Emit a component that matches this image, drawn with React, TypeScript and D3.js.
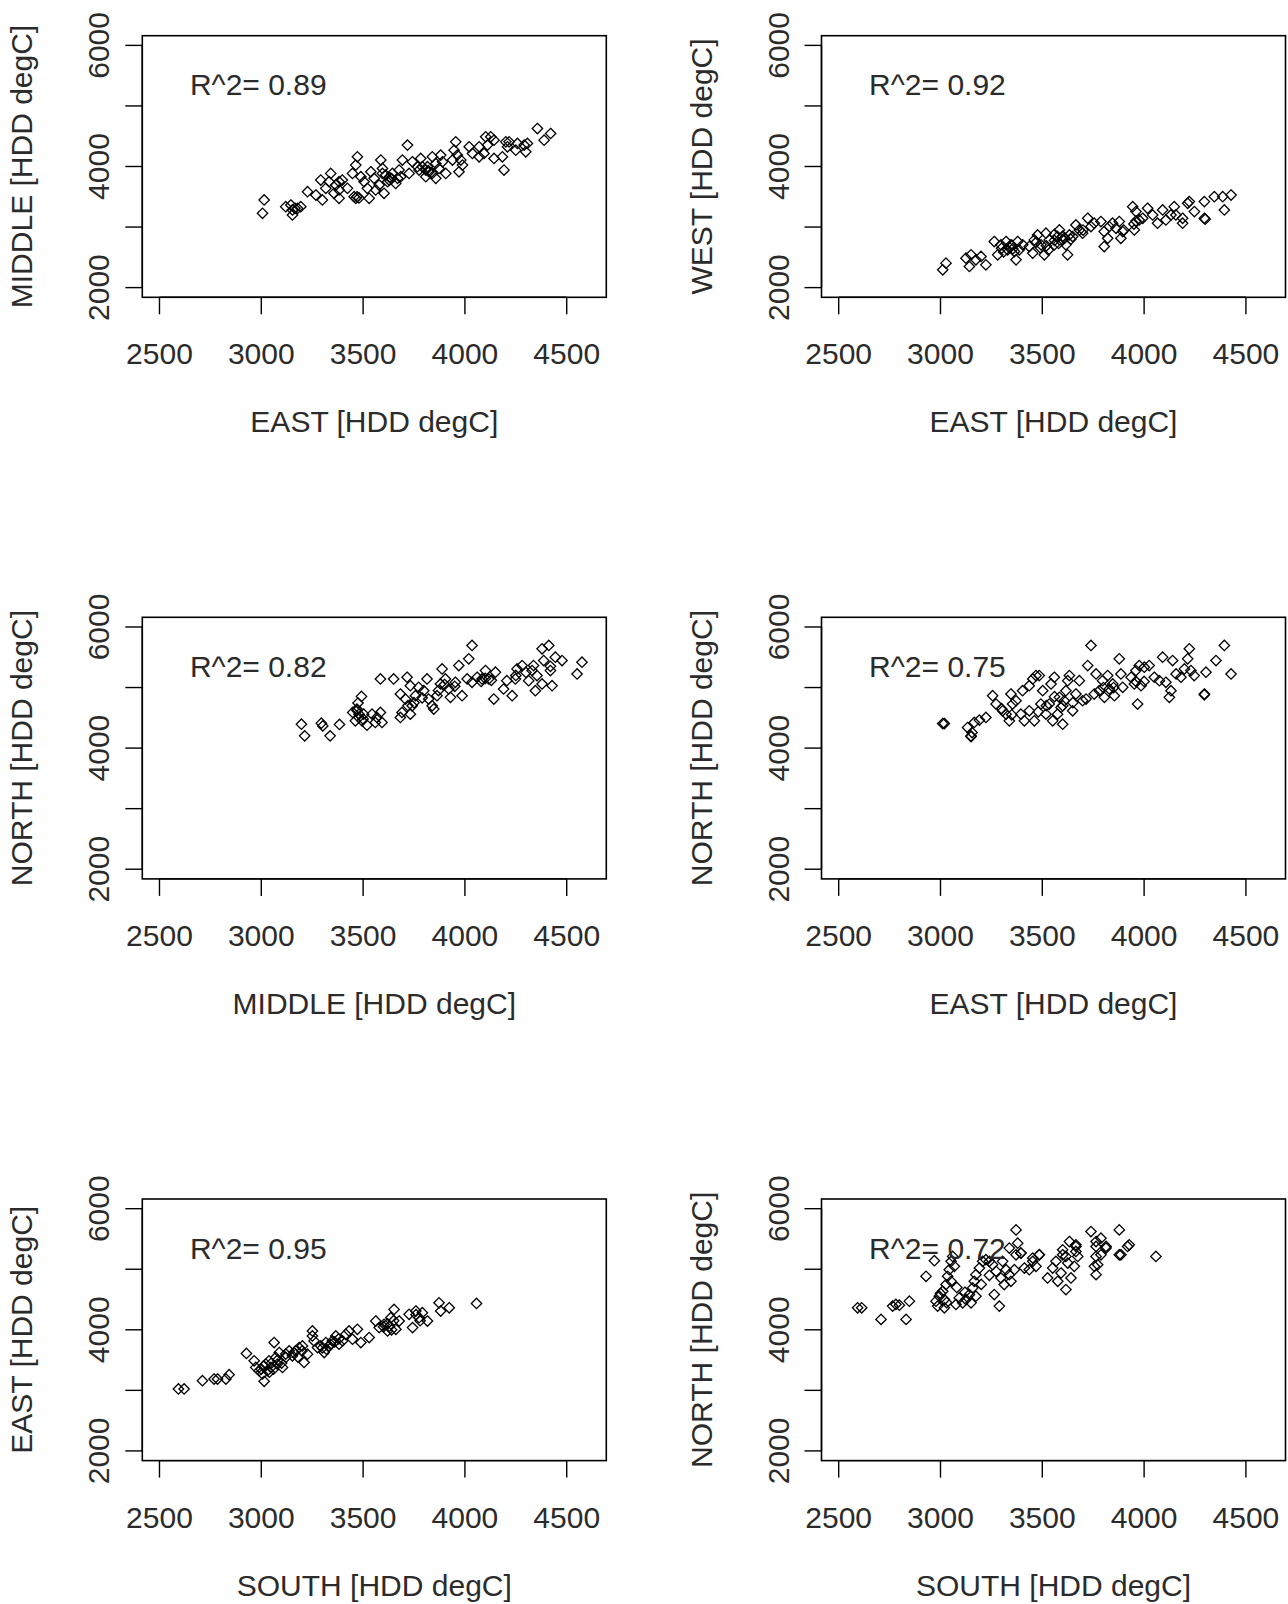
import React from 'react';
import * as d3 from 'd3';

// ---------- data ----------
const panel1East = [3014,3006,3120,3145,3153,3178,3153,3194,3165,3227,3268,3292,3341,3333,3317,3366,3357,3382,3398,3423,3382,3456,3464,3480,3470,3472,3464,3448,3489,3505,3521,3530,3562,3587,3595,3611,3628,3603,3644,3669,3693,3677,3660,3718,3742,3767,3791,3808,3824,3840,3857,3873,3881,3890,3840,3783,3955,3947,3963,3980,3971,3988,4021,4037,4070,4094,4102,4127,4143,4184,4192,4143,4201,4217,4250,4291,4307,4299,4356,4421,4389,3595,3620,3726,3808,3857,3939,3300,3382,3538,3554,3579,3685,3906,3775,3816,4070,4111,4209,4258,3630,3640,3820];
const panel1Middle = [3447,3227,3337,3364,3282,3309,3200,3337,3310,3584,3529,3776,3886,3749,3639,3694,3557,3474,3776,3639,3612,3502,3474,3480,3500,4160,4023,3886,3831,3749,3639,3474,3612,4106,3968,3859,3776,3557,3886,3804,4106,3941,3721,4353,4078,3996,3996,3941,3913,3886,3804,3968,4188,4078,4160,4133,4407,4270,4188,4106,3913,4023,4325,4215,4325,4215,4490,4490,4133,4160,3941,4435,4407,4407,4270,4353,4380,4243,4627,4545,4435,3886,3749,3886,3831,4051,4106,3447,3749,3913,3804,3694,3831,3886,3941,3996,4160,4353,4325,4380,3820,3800,3930];

const panel2East = [3011,3027,3125,3150,3142,3174,3223,3199,3264,3281,3297,3322,3330,3346,3363,3379,3371,3404,3387,3436,3453,3461,3477,3494,3510,3518,3534,3559,3575,3584,3600,3616,3624,3633,3649,3665,3682,3698,3723,3739,3755,3788,3804,3804,3821,3829,3845,3862,3878,3886,3895,3944,3960,3952,3976,3993,4017,4042,4066,4091,4107,4132,4148,4156,4189,4189,4214,4222,4247,4296,4296,4345,4386,4427,4394,3340,3355,3470,3490,3520,3560,3580,3600,3610,3640,3350,3300,3310,3560,3700,3950,3960,4300,3900,3530];
const panel2West = [2294,2404,2486,2541,2349,2459,2376,2514,2761,2541,2706,2761,2624,2706,2596,2761,2459,2706,2624,2678,2569,2788,2870,2706,2541,2898,2788,2706,2843,2953,2788,2706,2541,2870,2843,3035,2953,2898,3145,3008,3063,3090,2925,2678,2815,3008,3063,2980,3090,2815,2925,3337,3255,2953,3117,3145,3310,3200,3063,3282,3117,3200,3337,3200,3145,3063,3392,3420,3255,3420,3145,3502,3502,3529,3282,2660,2640,2750,2660,2690,2780,2730,2850,2820,2800,2700,2650,2590,2880,2950,3050,3100,3130,2950,2620];

const panel3Middle = [3197,3213,3295,3302,3338,3384,3449,3470,3492,3475,3479,3495,3519,3544,3568,3585,3593,3560,3462,3503,3585,3650,3716,3732,3683,3683,3691,3708,3741,3732,3757,3773,3798,3814,3822,3839,3847,3863,3880,3888,3904,3921,3929,3953,3970,3986,4019,4035,4011,4035,4060,4084,4101,4117,4142,4150,4190,4206,4232,4248,4256,4281,4313,4337,4346,4354,4379,4387,4379,4412,4420,4428,4444,4477,4551,4575,3480,3500,3470,3720,3750,3790,3870,3900,3950,4080,4100,4130,4250,4300,4420,4330];
const panel3North = [4395,4202,4412,4367,4202,4390,4589,4644,4854,4744,4506,4450,4379,4561,4506,4589,4423,4423,4450,4561,5142,5142,5170,5031,4893,4506,4589,4810,4699,4561,4865,5004,4948,5142,4810,4699,4644,4865,5059,5308,5142,4976,4838,5087,5363,4865,5474,5695,5142,5087,5170,5142,5280,5142,4810,5253,4976,5114,4865,5142,5308,5363,5114,5363,4948,5197,5640,5446,5059,5695,5280,5031,5502,5446,5225,5419,4560,4480,4620,4700,4750,4830,4950,5050,5020,5100,5150,5120,5200,5250,5350,5280];

const panel4East = [3019,3011,3150,3155,3133,3166,3191,3223,3256,3273,3305,3322,3346,3354,3338,3371,3395,3403,3412,3436,3436,3453,3461,3469,3485,3493,3502,3518,3534,3543,3551,3559,3575,3584,3592,3600,3608,3616,3625,3633,3649,3665,3682,3698,3715,3723,3739,3755,3764,3780,3796,3805,3821,3829,3846,3854,3878,3886,3895,3936,3952,3960,3968,3976,3985,4001,4025,4050,4075,4091,4107,4124,4132,4140,4157,4181,4198,4214,4222,4230,4246,4296,4304,4353,4394,4427,3300,3350,3480,3520,3560,3600,3650,3800,3850,3960,4000,4296,3150];
const panel4North = [4406,4406,4201,4257,4340,4423,4462,4506,4865,4727,4616,4561,4893,4727,4450,4782,4561,4948,4450,5031,4616,5142,4450,5197,5197,4727,4948,4561,4727,5059,4450,5170,4561,4838,4672,4395,4782,4948,5114,5197,4616,4893,5114,4782,4810,5363,5695,4893,5225,4948,5114,4838,5197,4976,5059,4865,5474,5225,5004,5170,5059,5280,4727,5363,5031,5336,5363,5170,5114,5502,5087,4838,4948,5446,5225,5170,5308,5474,5640,5280,5197,4893,5253,5446,5695,5225,4650,4550,4600,4700,4850,4700,4750,5000,5000,5100,5100,4880,4190];

const panel5South = [2593,2621,2711,2768,2785,2826,2842,2927,2965,2973,2989,3006,3014,3022,3030,3038,3047,3063,3071,3079,3088,3104,3120,3137,3153,3169,3186,3202,3210,3227,3251,3251,3259,3276,3292,3309,3317,3333,3349,3366,3382,3399,3415,3431,3448,3472,3489,3530,3562,3579,3603,3620,3636,3652,3661,3677,3726,3743,3759,3775,3791,3816,3873,3881,3923,4057,3000,3010,3040,3050,3060,3080,3100,3120,3160,3180,3200,3300,3320,3340,3360,3380,3600,3620,3640,3650,3630,3760,3780];
const panel5East = [3023,3023,3160,3187,3187,3187,3258,3609,3488,3379,3324,3270,3149,3434,3324,3488,3379,3789,3543,3434,3625,3379,3543,3652,3570,3652,3707,3734,3461,3598,3981,3899,3817,3707,3734,3625,3789,3734,3817,3899,3762,3817,3926,3981,3844,4008,3789,3872,4145,4036,4090,3981,4200,4337,4008,4145,4255,4036,4310,4200,4282,4145,4446,4310,4364,4435,3350,3400,3300,3450,3350,3500,3450,3600,3620,3550,3650,3700,3680,3760,3800,3850,4050,4100,4000,4150,4060,4250,4150];

const panel6South = [2593,2613,2708,2765,2781,2798,2847,2831,2929,2970,2978,2994,2986,3011,3019,3027,3035,3043,3052,3060,3068,3052,3076,3019,3092,3109,3125,3142,3150,3158,3166,3174,3174,3191,3207,3223,3240,3256,3264,3273,3289,3297,3305,3313,3322,3338,3346,3363,3371,3395,3412,3436,3453,3469,3485,3526,3551,3567,3576,3592,3600,3616,3625,3641,3657,3665,3674,3764,3764,3772,3788,3813,3878,3919,4058,3371,3379,3338,3395,3453,3485,3600,3633,3665,3616,3665,3739,3764,3788,3813,3878,3927,3886,3764,3756,3000,3030,3080,3120,3200,3240];
const panel6North = [4363,4363,4172,4391,4418,4407,4473,4172,4883,5141,4473,4555,4391,4637,4363,4747,4883,4993,5130,5212,5048,4801,4418,4500,4527,4445,4500,4582,4445,4692,4801,4911,4555,5020,5130,5157,5130,5075,4582,4965,4391,4856,5130,4747,4993,4911,4801,4993,5239,5267,5020,4993,5130,5048,5239,4856,5020,5130,4801,4938,5239,4664,5102,4856,5048,5376,5212,5376,4911,5075,5239,5376,5239,5376,5212,5650,5431,5349,5267,5185,5239,5321,5458,5403,5212,5294,5622,5458,5513,5349,5650,5403,5239,5212,5048,4600,4450,4700,4620,4750,4900];

const rSquared = ['0.89', '0.92', '0.82', '0.75', '0.95', '0.72'];
const xAxisTitles = ['EAST [HDD degC]', 'EAST [HDD degC]', 'MIDDLE [HDD degC]', 'EAST [HDD degC]', 'SOUTH [HDD degC]', 'SOUTH [HDD degC]'];
const yAxisTitles = ['MIDDLE [HDD degC]', 'WEST [HDD degC]', 'NORTH [HDD degC]', 'NORTH [HDD degC]', 'EAST [HDD degC]', 'NORTH [HDD degC]'];
const xTicks = [2500, 3000, 3500, 4000, 4500];
const yTicks = [2000, 3000, 4000, 5000, 6000];
const yTickLabels = [2000, 4000, 6000];
const xLimits = [2500, 4610];
const yLimits = [2000, 6000];
const labelPosition = [2985, 5350];

const panelXs = [panel1East, panel2East, panel3Middle, panel4East, panel5South, panel6South];
const panelYs = [panel1Middle, panel2West, panel3North, panel4North, panel5East, panel6North];

// ---------- layout ----------
const W = 1288;
const H = 1604;
const colLeft = [142.3, 821.5];
const rowTop = [35.7, 617.3, 1199];
const boxW = 464;
const boxH = 261.6;
const FONT = "'Liberation Sans', Arial, Helvetica, sans-serif";
const FS = 30;
const TEXT = '#2b2b2b';

function pad(lim: number[]) {
  const r = lim[1] - lim[0];
  return [lim[0] - 0.04 * r, lim[1] + 0.04 * r];
}

function Panel({ idx }: { idx: number }) {
  const left = colLeft[idx % 2];
  const top = rowTop[Math.floor(idx / 2)];
  const x = d3.scaleLinear().domain(pad(xLimits)).range([left, left + boxW]);
  const y = d3.scaleLinear().domain(pad(yLimits)).range([top + boxH, top]);
  const xs = panelXs[idx];
  const ys = panelYs[idx];
  const r = 5.2;
  const diamond = `M0,${-r}L${r},0L0,${r}L${-r},0Z`;
  const bottom = top + boxH;
  const tick = 17;
  return (
    <g>
      <g fill="none" stroke="#000" strokeWidth={1.3}>
        {xs.map((v, i) => (
          <path key={i} d={diamond} transform={`translate(${x(v)},${y(ys[i])})`} />
        ))}
      </g>
      <text
        x={x(labelPosition[0])}
        y={y(labelPosition[1])}
        textAnchor="middle"
        dominantBaseline="central"
        fontFamily={FONT}
        fontSize={FS}
        fill={TEXT}
      >
        {`R^2= ${rSquared[idx]}`}
      </text>
      <rect x={left} y={top} width={boxW} height={boxH} fill="none" stroke="#000" strokeWidth={1.6} />
      {/* x axis */}
      <line x1={x(xTicks[0])} x2={x(xTicks[xTicks.length - 1])} y1={bottom} y2={bottom} stroke="#000" strokeWidth={1.4} />
      {xTicks.map((t) => (
        <g key={t}>
          <line x1={x(t)} x2={x(t)} y1={bottom} y2={bottom + tick} stroke="#000" strokeWidth={1.4} />
          <text x={x(t)} y={bottom + 67} textAnchor="middle" fontFamily={FONT} fontSize={FS} fill={TEXT}>
            {t}
          </text>
        </g>
      ))}
      {/* y axis */}
      <line x1={left} x2={left} y1={y(yTicks[0])} y2={y(yTicks[yTicks.length - 1])} stroke="#000" strokeWidth={1.4} />
      {yTicks.map((t) => (
        <line key={t} x1={left - tick} x2={left} y1={y(t)} y2={y(t)} stroke="#000" strokeWidth={1.4} />
      ))}
      {yTickLabels.map((t) => (
        <text
          key={t}
          transform={`translate(${left - 33},${y(t)}) rotate(-90)`}
          textAnchor="middle"
          fontFamily={FONT}
          fontSize={FS}
          fill={TEXT}
        >
          {t}
        </text>
      ))}
      <text x={left + boxW / 2} y={bottom + 135} textAnchor="middle" fontFamily={FONT} fontSize={FS} fill={TEXT}>
        {xAxisTitles[idx]}
      </text>
      <text
        transform={`translate(${left - 110},${top + boxH / 2}) rotate(-90)`}
        textAnchor="middle"
        fontFamily={FONT}
        fontSize={FS}
        fill={TEXT}
      >
        {yAxisTitles[idx]}
      </text>
    </g>
  );
}

export default function App() {
  return (
    <svg
      width={W}
      height={H}
      viewBox={`0 0 ${W} ${H}`}
      style={{ position: 'absolute', left: 0, top: 0, background: '#fff' }}
    >
      <rect width={W} height={H} fill="#fff" />
      {[0, 1, 2, 3, 4, 5].map((i) => (
        <Panel key={i} idx={i} />
      ))}
    </svg>
  );
}
